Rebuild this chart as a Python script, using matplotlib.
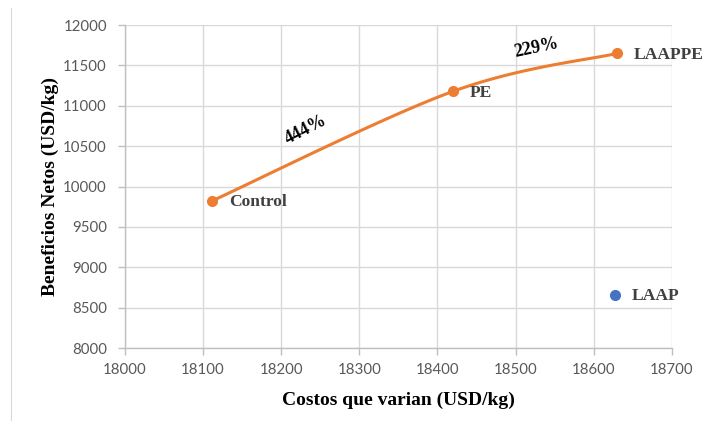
import numpy as np
import matplotlib
matplotlib.use("Agg")
import matplotlib.pyplot as plt
from matplotlib.lines import Line2D

# data
curve_names = ["Control", "PE", "LAAPPE"]
curve_costs = [18112, 18420, 18630]
curve_benefits = [9825, 11180, 11650]

laap_name = "LAAP"
laap_cost = [18627]
laap_benefit = [8660]

rate_labels = ["444%", "229%"]
rate_pos_x = [18232, 18527]
rate_pos_y = [10700, 11718]
rate_angle = [27, 12]

orange = "#ED7D31"
blue = "#4472C4"
label_color = "#404040"
serif = "Liberation Serif"


def excel_smooth(xs, ys, n=60):
    # bezier smoothing like Excel's "smoothed line"
    p = np.column_stack([xs, ys]).astype(float)
    ext = np.vstack([p[0], p, p[-1]])
    out = []
    for i in range(len(p) - 1):
        p0, p3 = ext[i + 1], ext[i + 2]
        c1 = p0 + (ext[i + 2] - ext[i]) / 6
        c2 = p3 - (ext[i + 3] - ext[i + 1]) / 6
        t = np.linspace(0, 1, n)[:, None]
        seg = ((1 - t) ** 3) * p0 + 3 * ((1 - t) ** 2) * t * c1 + 3 * (1 - t) * t ** 2 * c2 + t ** 3 * p3
        out.append(seg)
    seg = np.vstack(out)
    return seg[:, 0], seg[:, 1]


fig = plt.figure(figsize=(7.02, 4.26), dpi=100)
ax = fig.add_axes([0.178, 0.183, 0.779, 0.758])

sx, sy = excel_smooth(curve_costs, curve_benefits)
ax.plot(sx, sy, color=orange, lw=2.2, zorder=3, solid_capstyle="round")
ax.plot(curve_costs, curve_benefits, "o", color=orange, ms=7, zorder=4)
ax.plot(laap_cost, laap_benefit, "o", color=blue, ms=7, zorder=4)

for name, x, y in zip(curve_names, curve_costs, curve_benefits):
    ax.annotate(name, (x, y), xytext=(12, -1), textcoords="offset points",
                va="center", ha="left", fontsize=12.6, fontweight="bold",
                family=serif, color=label_color)
ax.annotate(laap_name, (laap_cost[0], laap_benefit[0]), xytext=(12, -1),
            textcoords="offset points", va="center", ha="left", fontsize=12.6,
            fontweight="bold", family=serif, color=label_color)

for lab, x, y, a in zip(rate_labels, rate_pos_x, rate_pos_y, rate_angle):
    ax.text(x, y, lab, rotation=a, ha="center", va="center", fontsize=13,
            fontweight="bold", family=serif, color="black")

ax.set_xlim(18000, 18700)
ax.set_ylim(8000, 12000)
ax.set_xticks(np.arange(18000, 18701, 100))
ax.set_yticks(np.arange(8000, 12001, 500))
ax.grid(True, color="#d9d9d9", lw=1)
ax.set_axisbelow(True)

for s in ["top", "right"]:
    ax.spines[s].set_visible(False)
for s in ["left", "bottom"]:
    ax.spines[s].set_color("#bfbfbf")
    ax.spines[s].set_linewidth(1)

ax.tick_params(axis="both", colors="#bfbfbf", length=5, width=1,
               labelcolor="#595959", labelsize=10.8)
for t in ax.get_xticklabels() + ax.get_yticklabels():
    t.set_family("Lato")
ax.tick_params(axis="x", pad=6)
ax.tick_params(axis="y", pad=8)

ax.set_xlabel("Costos que varian (USD/kg)", family=serif, fontweight="bold",
              fontsize=14, color="black", labelpad=10)
ax.set_ylabel("Beneficios Netos (USD/kg)", family=serif, fontweight="bold",
              fontsize=14, color="black", labelpad=3)

# thin frame line on the left of the chart area
fig.add_artist(Line2D([11 / 702, 11 / 702], [6 / 426, 418 / 426],
                      transform=fig.transFigure, color="#d9d9d9", lw=0.8))

fig.savefig("out.png", dpi=100)
